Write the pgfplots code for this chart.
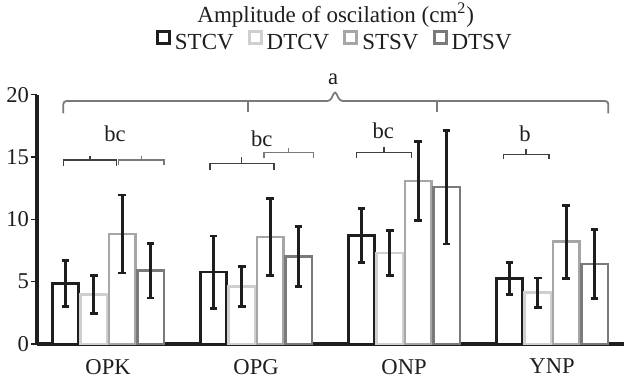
\documentclass[border=0pt]{standalone}
\usepackage{pgfplots}
\pgfplotsset{compat=1.18}
\usepackage{fontspec}
\setmainfont{Liberation Serif}
\definecolor{cA}{HTML}{1E1E1E}
\definecolor{cB}{HTML}{CFCFCF}
\definecolor{cC}{HTML}{A6A6A6}
\definecolor{cD}{HTML}{7A7A7A}
\definecolor{brk}{HTML}{7A7A7A}
\pgfplotsset{
  sq/.style={legend image code/.code={\draw[#1,line width=1.5pt,fill=white] (0pt,-0.2pt) rectangle (6pt,5.8pt);}},
  barst/.style={draw=#1, fill=white, line width=1.3pt,
    error bars/.cd, y dir=both, y explicit,
    error bar style={line width=1.4pt, color=cA},
    error mark options={rotate=90, mark size=1.9pt, line width=1.4pt, color=cA},
    /pgfplots/.cd},
}
\begin{document}
\begin{tikzpicture}
\begin{axis}[
  scale only axis, width=293.5pt, height=124.65pt,
  xmin=-0.48, xmax=3.486, ymin=0, ymax=20,
  clip=false,
  axis x line=bottom, axis y line=left,
  axis line style={-, line width=1.6pt, color=cA},
  ybar=1pt, bar width=13.2pt,
  xtick={0,1,2,3}, xticklabels={OPK,OPG,ONP,YNP},
  x tick style={draw=none},
  ytick={0,5,10,15,20},
  y tick style={line width=0.6pt, color=cA},
  tick align=outside, major tick length=3pt,
  tick label style={font=\fontsize{11.3}{13}\selectfont, text=cA},
  x tick label style={yshift=-1pt},
  y tick label style={xshift=2.5pt},
  /pgf/number format/assume math mode=true,
  legend style={at={(0.509,1.207)}, anchor=center, draw=none, fill=none,
    legend columns=-1, font=\fontsize{11.5}{13}\selectfont, text=cA,
    /tikz/every even column/.append style={column sep=5pt}},
  legend cell align=left,
]
\addplot[sq=cA, barst=cA] coordinates {(0,4.87) +- (0,1.85) (1,5.77) +- (0,2.9) (2,8.69) +- (0,2.15) (3,5.26) +- (0,1.3)};
\addplot[sq=cB, barst=cB] coordinates {(0,3.98) +- (0,1.52) (1,4.60) +- (0,1.6) (2,7.30) +- (0,1.8) (3,4.12) +- (0,1.17)};
\addplot[sq=cC, barst=cC] coordinates {(0,8.82) +- (0,3.13) (1,8.58) +- (0,3.08) (2,13.07) +- (0,3.18) (3,8.20) +- (0,2.93)};
\addplot[sq=cD, barst=cD] coordinates {(0,5.88) +- (0,2.19) (1,7.03) +- (0,2.42) (2,12.59) +- (0,4.56) (3,6.41) +- (0,2.75)};
\legend{STCV,DTCV,STSV,DTSV}
% significance brackets
\draw[brk, line width=0.9pt, rounded corners=1.5pt]
  (axis cs:-0.302,18.51) -- (axis cs:-0.302,19.49) -- (axis cs:1.50,19.49) -- (axis cs:1.534,20.3) -- (axis cs:1.568,19.49) -- (axis cs:3.380,19.49) -- (axis cs:3.380,18.51);
\draw[brk, line width=0.9pt] (axis cs:0.946,19.49) -- (axis cs:0.946,18.61);
\draw[brk, line width=0.9pt] (axis cs:2.221,19.49) -- (axis cs:2.221,18.59);
\node[font=\fontsize{11.3}{13}\selectfont, text=cA] at (axis cs:1.52,21.2) {a};
% OPK
\draw[cA!85, line width=0.7pt] (axis cs:-0.300,14.28) -- (axis cs:-0.300,14.76) -- (axis cs:0.0585,14.76) -- (axis cs:0.0585,14.28);
\draw[cA!85, line width=0.7pt] (axis cs:-0.122,14.76) -- (axis cs:-0.122,15.08);
\draw[brk, line width=0.7pt] (axis cs:0.069,14.34) -- (axis cs:0.069,14.76) -- (axis cs:0.378,14.76) -- (axis cs:0.378,14.34);
\draw[brk, line width=0.7pt] (axis cs:0.225,14.76) -- (axis cs:0.225,15.08);
\node[font=\fontsize{11.3}{13}\selectfont, text=cA] at (axis cs:0.047,16.85) {bc};
% OPG
\draw[cA!85, line width=0.7pt] (axis cs:0.689,13.96) -- (axis cs:0.689,14.50) -- (axis cs:1.121,14.50) -- (axis cs:1.121,13.96);
\draw[cA!85, line width=0.7pt] (axis cs:0.903,14.50) -- (axis cs:0.903,14.98);
\draw[brk, line width=0.7pt] (axis cs:1.054,14.90) -- (axis cs:1.054,15.35) -- (axis cs:1.387,15.35) -- (axis cs:1.387,14.90);
\draw[brk, line width=0.7pt] (axis cs:1.221,15.35) -- (axis cs:1.221,15.70);
\node[font=\fontsize{11.3}{13}\selectfont, text=cA] at (axis cs:1.038,16.50) {bc};
% ONP
\draw[cA!85, line width=0.7pt] (axis cs:1.680,14.90) -- (axis cs:1.680,15.35) -- (axis cs:2.052,15.35) -- (axis cs:2.052,14.90);
\draw[cA!85, line width=0.7pt] (axis cs:1.865,15.35) -- (axis cs:1.865,15.78);
\node[font=\fontsize{11.3}{13}\selectfont, text=cA] at (axis cs:1.860,17.11) {bc};
% YNP
\draw[cA!85, line width=0.7pt] (axis cs:2.671,14.82) -- (axis cs:2.671,15.22) -- (axis cs:2.979,15.22) -- (axis cs:2.979,14.82);
\draw[cA!85, line width=0.7pt] (axis cs:2.824,15.22) -- (axis cs:2.824,15.62);
\node[font=\fontsize{11.3}{13}\selectfont, text=cA] at (axis cs:2.817,16.85) {b};
% title
\node[font=\fontsize{11.5}{13}\selectfont, text=cA] at (rel axis cs:0.509,1.32) {Amplitude of oscilation (cm\textsuperscript{2})};
\coordinate (O) at (rel axis cs:0,0);
\end{axis}
\pgfresetboundingbox
\path[use as bounding box] ([xshift=-18.5pt,yshift=-18.5pt]O) rectangle ([xshift=293.5pt,yshift=172pt]O);
\end{tikzpicture}
\end{document}
